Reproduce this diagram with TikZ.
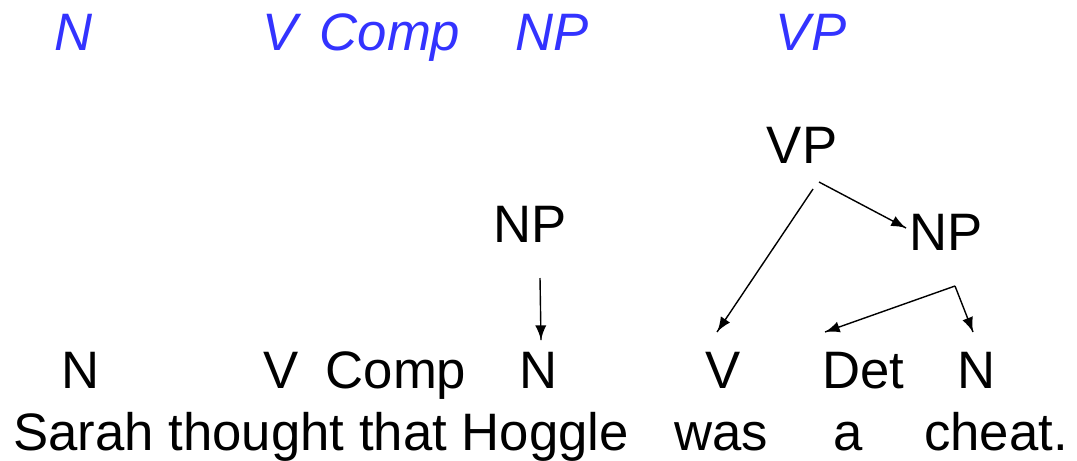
\documentclass[tikz,border=0pt]{standalone}
\usepackage{fontspec}
\setmainfont{Liberation Sans}
\usetikzlibrary{calc}
\usetikzlibrary{arrows,decorations.markings}
\definecolor{tagblue}{RGB}{51,51,255}
\tikzset{
    word/.style={inner sep=0pt, anchor=base, font=\fontsize{30}{36}\selectfont},
    tag/.style={word, text=tagblue, font=\fontsize{30}{36}\selectfont\itshape},
    branch/.style={thick, black, decoration={markings,mark=at position 1 with {\arrow[scale=1.6,>=latex]{>}}},postaction={decorate}}
}
\begin{document}
\begin{tikzpicture}[x=0.02cm, y=-0.02cm]
			\useasboundingbox (0,0) rectangle (1077,460);

			% top row of tags
			\node[tag] (tN) at (74,50) {N};
			\node[tag] (tV) at (280,50) {V};
			\node[tag] (tComp) at (390,50) {Comp};
			\node[tag] (tNP) at (552,50) {NP};
			\node[tag] (tVP) at (811,50) {VP};

			% phrases
			\node[word] (pNP1) at (530,242) {NP};
			\node[word] (pVP) at (802,163) {VP};
			\node[word] (pNP2) at (946,250) {NP};

			% word tags
			\node[word] (cN1) at (81,388) {N};
			\node[word] (cV1) at (281,388) {V};
			\node[word] (cComp) at (396,388) {Comp};
			\node[word] (cN2) at (539,388) {N};
			\node[word] (cV2) at (723,388) {V};
			\node[word] (cDet) at (863,388) {Det};
			\node[word] (cN3) at (977,388) {N};

			% sentence
			\node[word, anchor=base west] (wFirst) at (13,450) {Sarah thought that Hoggle};
			\node[word] (wWas) at (721,450) {was};
			\node[word] (wA) at (848,450) {a};
			\node[word] (wCheat) at (996,450) {cheat.};

			% ends of the branches
			\coordinate (np1a) at ($(pNP1.base)+(10,36)$);
			\coordinate (n2b) at ($(cN2.base)+(2,-48)$);
			\coordinate (vpa) at ($(pVP.base)+(11,26)$);
			\coordinate (vpb) at ($(pVP.base)+(17,19)$);
			\coordinate (v2b) at ($(cV2.base)+(-6,-56)$);
			\coordinate (np2b) at ($(pNP2.base)+(-40,-22)$);
			\coordinate (fork) at ($(pNP2.base)+(9,36)$); %shared start of Det and N
			\coordinate (detb) at ($(cDet.base)+(-38,-56)$);
			\coordinate (n3b) at ($(cN3.base)+(-4,-56)$);

			\draw[branch] (np1a) -- (n2b);
			\draw[branch] (vpa) -- (v2b);
			\draw[branch] (vpb) -- (np2b);
			\draw[branch] (fork) -- (detb);
			\draw[branch] (fork) -- (n3b);

		\end{tikzpicture}
\end{document}
